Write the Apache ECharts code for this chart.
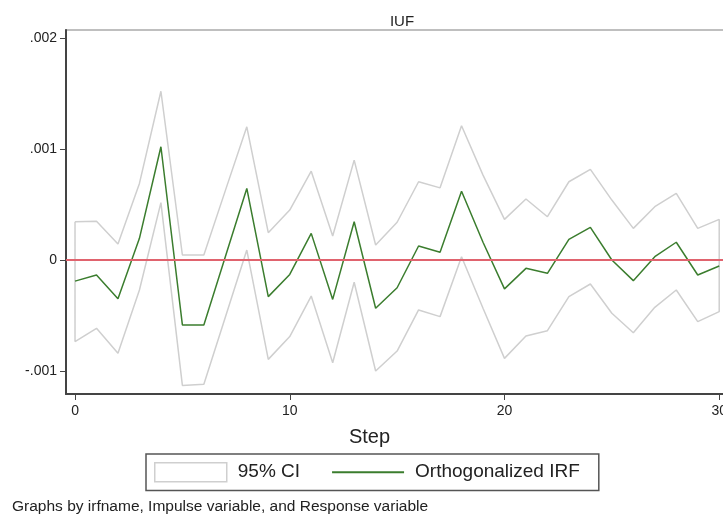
<!DOCTYPE html>
<html lang="en">
<head>
    <meta charset="UTF-8">
    <script src="https://cdn.jsdelivr.net/npm/echarts@6.0.0/dist/echarts.min.js"></script>
    <title>IUF</title>
    <style>
        html, body { margin: 0; padding: 0; background: #fff; overflow: hidden; }
    </style>
</head>
<body>
<!-- the plot runs past the right edge of the window, as in the reference -->
<div id="main" style="width: 730px;height:519px;"></div>

<script>
    // steps 0..30
    var steps = [0, 1, 2, 3, 4, 5, 6, 7, 8, 9, 10, 11, 12, 13, 14, 15, 16, 17, 18, 19, 20, 21, 22, 23, 24, 25, 26, 27, 28, 29, 30];

    var irf = [-0.00019, -0.000135, -0.00035, 0.000195, 0.00102, -0.000585, -0.000585, 0.00003, 0.000645, -0.00033,
        -0.00013, 0.00024, -0.000355, 0.000345, -0.000435, -0.00025, 0.000126, 0.00007, 0.00062, 0.00016,
        -0.00026, -0.000075, -0.00012, 0.000186, 0.000294, 0.0, -0.000186, 0.00003, 0.00016, -0.000135, -0.000054];

    var ciUpper = [0.000345, 0.00035, 0.000144, 0.00069, 0.00152, 0.000045, 0.000045, 0.000625, 0.0012, 0.000246,
        0.00045, 0.0008, 0.000216, 0.0009, 0.000135, 0.00034, 0.000705, 0.00065, 0.00121, 0.000765,
        0.000366, 0.00055, 0.00039, 0.000705, 0.000817, 0.00054, 0.000285, 0.00048, 0.0006, 0.000285, 0.000366];

    var ciLower = [-0.000735, -0.000615, -0.00084, -0.00027, 0.000517, -0.00113, -0.00112, -0.000515, 0.00009, -0.000895,
        -0.00069, -0.000325, -0.000925, -0.0002, -0.001, -0.00082, -0.00045, -0.00051, 0.00003, -0.000435,
        -0.000886, -0.000685, -0.000637, -0.00033, -0.000216, -0.00048, -0.000655, -0.000426, -0.00027, -0.000555, -0.000465];

    var xTicks = [0, 10, 20, 30];
    var yTicks = [-0.001, 0, 0.001, 0.002];
    var yTickLabels = ['-.001', '0', '.001', '.002'];

    var font = 'Liberation Sans, Arial, Helvetica, sans-serif';

    // outline of the CI band: upper forward, lower backward, closed
    var ciPath = [];
    steps.forEach(function (s, i) { ciPath.push([s, ciUpper[i]]); });
    for (var i = steps.length - 1; i >= 0; i--) ciPath.push([steps[i], ciLower[i]]);
    ciPath.push([steps[0], ciUpper[0]]);

    var irfData = steps.map(function (s, i) { return [s, irf[i]]; });

    var myChart = echarts.init(document.getElementById('main'));
    var option = {
        animation: false,
        backgroundColor: '#fff',
        textStyle: { fontFamily: font },
        title: {
            text: 'IUF',
            left: 397,
            textAlign: 'center',
            top: 9,
            textStyle: { fontFamily: font, fontSize: 15, fontWeight: 'normal', color: '#222' }
        },
        grid: {
            left: 66,
            top: 30,
            right: 0,
            bottom: 125,
            show: true,
            borderColor: '#aaa',
            borderWidth: 1.5
        },
        legend: {
            left: 146,
            top: 454,
            orient: 'horizontal',
            padding: [8, 19, 8, 8],
            itemGap: 31,
            itemWidth: 72,
            itemHeight: 19,
            borderColor: '#555',
            borderWidth: 1.5,
            textStyle: { fontFamily: font, fontSize: 19, color: '#222', padding: [0, 0, 0, 6] },
            data: [
                { name: '95% CI', icon: 'rect', itemStyle: { color: '#fff', borderColor: '#cfcfcf', borderWidth: 1.5 } },
                { name: 'Orthogonalized IRF', itemStyle: { opacity: 0 } }
            ]
        },
        xAxis: {
            type: 'value',
            min: -0.42,
            max: 30.46,
            name: 'Step',
            nameLocation: 'middle',
            nameGap: 33,
            nameTextStyle: { fontFamily: font, fontSize: 20, color: '#222', padding: [0, 56, 0, 0] },
            splitLine: { show: false },
            axisLine: { onZero: false, lineStyle: { color: '#444', width: 2 } },
            axisTick: { length: 6, lineStyle: { color: '#444', width: 1 }, customValues: xTicks },
            axisLabel: { margin: 10, fontSize: 14, color: '#222', customValues: xTicks }
        },
        yAxis: {
            type: 'value',
            min: -0.001207,
            max: 0.002072,
            splitLine: { show: false },
            axisLine: { show: true, onZero: false, lineStyle: { color: '#444', width: 2 } },
            axisTick: { show: true, length: 6, lineStyle: { color: '#444', width: 1 }, customValues: yTicks },
            axisLabel: {
                margin: 9, fontSize: 14, color: '#222', customValues: yTicks,
                formatter: function (v) {
                    for (var k = 0; k < yTicks.length; k++) {
                        if (Math.abs(yTicks[k] - v) < 1e-9) return yTickLabels[k];
                    }
                    return '';
                }
            }
        },
        series: [
            {
                name: '95% CI',
                type: 'line',
                data: ciPath,
                symbol: 'none',
                silent: true,
                lineStyle: { color: '#cfcfcf', width: 1.5 },
                itemStyle: { color: '#cfcfcf' },
                markLine: {
                    silent: true,
                    symbol: 'none',
                    label: { show: false },
                    lineStyle: { color: '#e0636e', width: 2, type: 'solid' },
                    data: [{ yAxis: 0 }]
                }
            },
            {
                name: 'Orthogonalized IRF',
                type: 'line',
                data: irfData,
                symbol: 'none',
                lineStyle: { color: '#3b7d2e', width: 1.5 },
                itemStyle: { color: '#3b7d2e' }
            }
        ],
        graphic: [
            {
                type: 'text',
                left: 12,
                top: 499,
                style: {
                    text: 'Graphs by irfname, Impulse variable, and Response variable',
                    fontFamily: font,
                    fontSize: 15.5,
                    fill: '#222'
                }
            }
        ]
    };
    myChart.setOption(option);
</script>
</body>
</html>
